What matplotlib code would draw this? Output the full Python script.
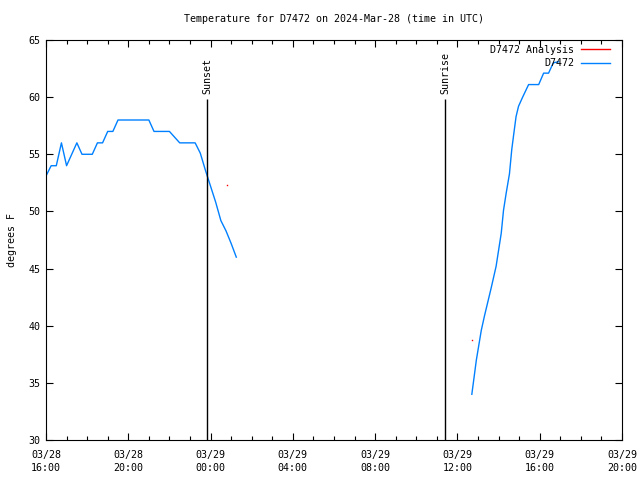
import matplotlib
matplotlib.use('Agg')
import matplotlib.pyplot as plt
from matplotlib.ticker import MultipleLocator
from matplotlib.lines import Line2D

plt.rcParams['font.family'] = ['DejaVu Sans Mono']

# hours after 03/28 16:00 UTC
hours1 = [0.0, 0.25, 0.5, 0.75, 1.0, 1.25, 1.5, 1.75, 2.0, 2.25, 2.5, 2.75, 3.0, 3.25,
          3.5, 3.75, 4.0, 4.25, 4.5, 4.75, 5.0, 5.25, 5.5, 5.75, 6.0, 6.25, 6.5, 6.75,
          7.0, 7.25, 7.5, 7.75, 8.0, 8.25, 8.5, 8.75, 9.0, 9.25]
temps1 = [53.1, 54, 54, 56, 54, 55, 56, 55, 55, 55, 56, 56, 57, 57,
          58, 58, 58, 58, 58, 58, 58, 57, 57, 57, 57, 56.5, 56, 56,
          56, 56, 55.1, 53.6, 52.2, 50.8, 49.2, 48.3, 47.2, 46.0]

hours2 = [20.70, 20.92, 21.16, 21.32, 21.64, 21.88, 22.13, 22.24, 22.37, 22.53, 22.64,
          22.74, 22.85, 22.97, 23.17, 23.46, 23.95, 24.19, 24.43, 24.66, 24.92]
temps2 = [34.0, 37.0, 39.6, 40.9, 43.3, 45.2, 48.1, 50.1, 51.6, 53.3, 55.4,
          56.8, 58.3, 59.2, 60.0, 61.1, 61.1, 62.1, 62.1, 63.0, 63.1]

analysis_hours = [8.78, 20.70]
analysis_temps = [52.3, 38.75]

sunset = 7.83
sunrise = 19.40

tick_hours = [0, 4, 8, 12, 16, 20, 24, 28]
tick_labels = ['03/28\n16:00', '03/28\n20:00', '03/29\n00:00', '03/29\n04:00',
               '03/29\n08:00', '03/29\n12:00', '03/29\n16:00', '03/29\n20:00']

fig = plt.figure(figsize=(6.4, 4.8), dpi=100)
ax = fig.add_axes([46/640, 40/480, 576/640, 400/480])

blue = '#0080ff'
red = '#ff0000'

ax.plot(analysis_hours, analysis_temps, ls='none', marker='s', ms=1, mew=0, color=red)
ax.plot(hours1, temps1, color=blue, lw=1)
ax.plot(hours2, temps2, color=blue, lw=1)

for t, name in [(sunset, 'Sunset'), (sunrise, 'Sunrise')]:
    ax.vlines(t, 30, 59.8, color='black', lw=1)
    ax.text(t, 60.3, name, rotation=90, ha='center', va='bottom', fontsize=7.2)

ax.set_xlim(0, 28)
ax.set_ylim(30, 65)
ax.set_xticks(tick_hours)
ax.set_xticklabels(tick_labels, linespacing=1.35)
ax.xaxis.set_minor_locator(MultipleLocator(1))
ax.set_yticks(range(30, 66, 5))
ax.tick_params(direction='in', top=True, right=True, labelsize=7.2, length=5,
               width=0.8, pad=4)
ax.tick_params(axis='x', pad=7)
ax.tick_params(which='minor', direction='in', top=True, length=3, width=0.8)
for s in ax.spines.values():
    s.set_linewidth(0.8)

ax.set_ylabel('degrees F', fontsize=7.2, labelpad=8)
ax.set_title('Temperature for D7472 on 2024-Mar-28 (time in UTC)', fontsize=7.2, pad=13)

handles = [Line2D([], [], color=red, lw=1), Line2D([], [], color=blue, lw=1)]
ax.legend(handles, ['D7472 Analysis', 'D7472'], loc='upper right', frameon=False,
          bbox_to_anchor=(0.981, 0.99), markerfirst=False, fontsize=7.2,
          handlelength=2.9, handletextpad=0.7, labelspacing=0.35,
          borderaxespad=0, borderpad=0.1)

fig.savefig('out.png', dpi=100)
